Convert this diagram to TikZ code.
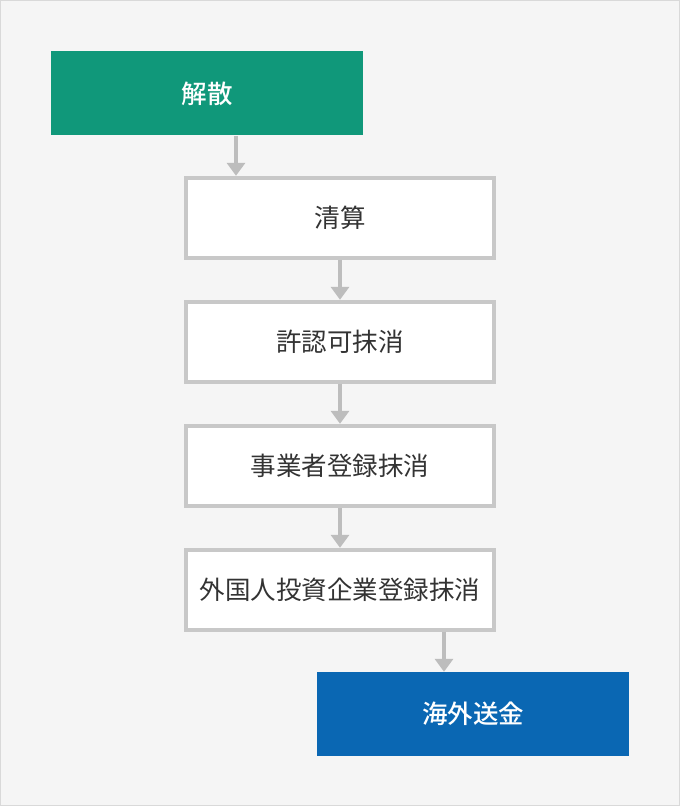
\documentclass[tikz,border=0pt]{standalone}
\usepackage{fontspec}
\setmainfont{Noto Sans CJK JP}
\newfontfamily\jpmedium{Noto Sans CJK JP Medium}
\usetikzlibrary{positioning,arrows.meta}

\definecolor{bggray}{HTML}{F5F5F5}
\definecolor{framegray}{HTML}{D9D9D9}
\definecolor{boxgray}{HTML}{C8C8C8}
\definecolor{arrowgray}{HTML}{BDBDBD}
\definecolor{stepgreen}{HTML}{10987A}
\definecolor{stepblue}{HTML}{0A67B3}
\definecolor{textgray}{HTML}{333333}

\begin{document}
\begin{tikzpicture}[x=1pt,y=-1pt,thick,
    stepbox/.style={draw=boxgray,line width=4pt,fill=white,text=textgray,minimum width=308pt,minimum height=80pt,font=\fontsize{25.5}{30}\selectfont},
    colorbox/.style={minimum width=312pt,minimum height=84pt,text=white,font=\fontsize{25.5}{30}\jpmedium},
    flow/.style={draw=arrowgray,line width=4pt,-{Triangle[width=18pt,length=13pt]}}]
    \useasboundingbox (0,0) rectangle (680,806);
    \draw[fill=bggray,draw=framegray,line width=1pt] (0.5,0.5) rectangle (679.5,805.5);
    \node[colorbox] (1) [fill=stepgreen, anchor=north west] at (51,51) {解散};
    \node[stepbox] (2) [anchor=north west, below right=40pt and 133pt of 1.south west] {清算};
    \node[stepbox] (3) [below=40pt of 2] {許認可抹消};
    \node[stepbox] (4) [below=40pt of 3] {事業者登録抹消};
    \node[stepbox] (5) [below=40pt of 4] {外国人投資企業登録抹消};
    \node[colorbox] (6) [fill=stepblue, anchor=north west, below right=40pt and 133pt of 5.south west] {海外送金};
    \draw[flow] ([xshift=52pt]2.north west |- 1.south) -- ([xshift=52pt]2.north west);
    \path
    (2) edge[flow] (3)
    (3) edge[flow] (4)
    (4) edge[flow] (5);
    \draw[flow] ([xshift=-52pt]5.south east) -- ([xshift=-52pt]5.south east |- 6.north);
\end{tikzpicture}
\end{document}
